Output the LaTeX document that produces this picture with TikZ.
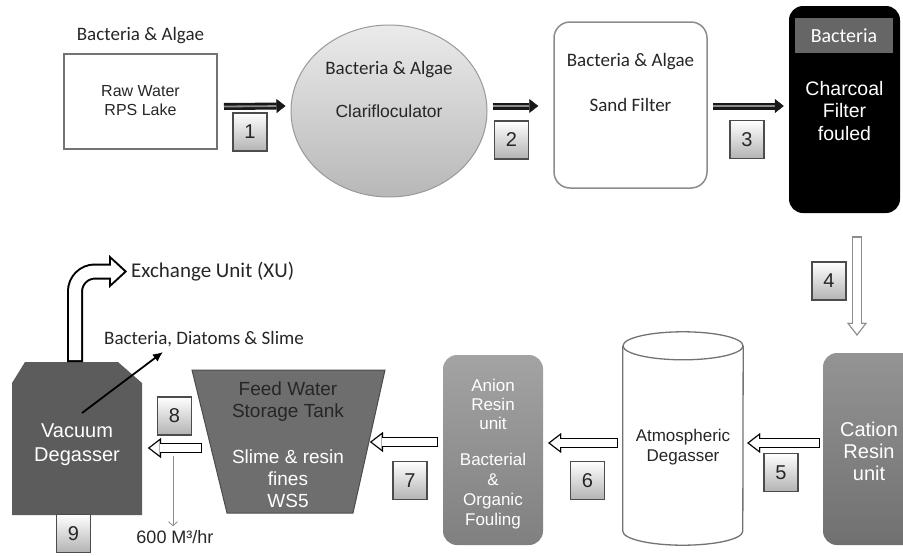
\documentclass[tikz,border=0pt]{standalone}
\usepackage{fontspec}
\setmainfont{Liberation Sans}
\newfontfamily\calib{Carlito}
\usetikzlibrary{arrows.meta,positioning,shapes.geometric}

\begin{document}
\begin{tikzpicture}[x=1pt, y=-1pt]
        \tikzset{every node/.style={align=center, inner sep=0pt, text=black!85}}
        \tikzset{calibtext/.style={font=\calib\fontsize{19}{23}\selectfont}}
        \tikzset{numbox/.style={draw=black!70, line width=1.2pt, top color=white, bottom color=black!30,
                 minimum width=34pt, minimum height=38pt, font=\fontsize{20}{24}\selectfont}}
        \tikzset{darkflow/.style={draw=black!90, double=black!45, double distance=1.8pt, line width=2.6pt,
                 -{Triangle[length=9pt, width=14pt, line width=0.5pt]}}}
        \tikzset{hollowflow/.style={preaction={draw=#1, line width=10pt, shorten >=0pt, shorten <=0pt,
                 -{Triangle[length=13pt, width=20pt, line width=0.01pt]}},
                 draw=white, line width=7.4pt, shorten >=2.1pt, shorten <=1.3pt,
                 -{Triangle[length=9.6pt, width=14.7pt, line width=0.01pt]}}, hollowflow/.default=black}
        \tikzset{hollowbend/.style={rounded corners=20pt, preaction={draw=black, line width=16pt, shorten >=0pt, shorten <=0pt,
                 -{Triangle[length=18pt, width=33pt, line width=0.01pt]}},
                 draw=white, line width=12pt, shorten >=3pt, shorten <=2pt,
                 -{Triangle[length=13pt, width=23.9pt, line width=0.01pt]}}}
        \useasboundingbox (0,0) rectangle (903,555);
        % top row
        \node[draw=black!55, line width=2pt, minimum width=153pt, minimum height=95pt, font=\fontsize{16}{19}\selectfont] (raw) at (140.5,101) {Raw Water\\RPS Lake};
        \node[calibtext] (rawbug) at (140.5,36) {Bacteria \& Algae};
        \node[ellipse, draw=black!40, line width=1pt, top color=black!8, bottom color=black!28,
              minimum width=196pt, minimum height=172pt] (clar) at (389,111) {};
        \node[calibtext] (clarbug) at (389,70) {Bacteria \& Algae};
        \node[font=\fontsize{17.5}{20}\selectfont] (clartxt) at (389,111) {Clarifloculator};
        \node[draw=black!45, line width=1.5pt, rounded corners=16pt, minimum width=153pt, minimum height=166pt] (sand) at (630.5,105) {};
        \node[calibtext] (sandbug) at (630.5,62) {Bacteria \& Algae};
        \node[calibtext] (sandtxt) at (630.5,105) {Sand Filter};
        \node[fill=black, rounded corners=14pt, minimum width=111pt, minimum height=207pt] (char) at (844.5,109.5) {};
        \node[fill=black!60, minimum width=98pt, minimum height=35pt, text=white, font=\calib\fontsize{20}{24}\selectfont] (charbug) at (844,35.5) {Bacteria};
        \node[text=white, font=\fontsize{19.5}{22.5}\selectfont] (chartxt) at (844.5,111) {Charcoal\\Filter\\fouled};
        % bottom row
        \node[top color=black!42, bottom color=black!56, rounded corners=14pt, minimum width=100pt, minimum height=192pt] (cation) at (873,449) {};
        \node[text=white, font=\fontsize{20}{22}\selectfont] (cationtxt) at (869,451) {Cation\\Resin\\unit};
        \node[minimum width=120pt, minimum height=185pt] (atm) at (683,438.5) {};
        \draw[black!55, line width=1.3pt, fill=white] (atm.north west) -- (atm.south west)
              arc[start angle=180, end angle=0, x radius=60, y radius=14] -- (atm.north east);
        \draw[black!55, line width=1.3pt, fill=white] (atm.north) ellipse[x radius=60, y radius=14];
        \node[font=\fontsize{17}{20}\selectfont] (atmtxt) at (683,447) {Atmospheric\\Degasser};
        \node[top color=black!36, bottom color=black!50, rounded corners=14pt, minimum width=100pt, minimum height=190pt] (anion) at (493,450) {};
        \node[text=white, font=\fontsize{17}{19}\selectfont] (aniontxt) at (493,404) {Anion\\Resin\\unit};
        \node[text=white, font=\fontsize{17}{20}\selectfont] (anionbug) at (493,491) {Bacterial\\\&\\Organic\\Fouling};
        \draw[draw=black!70, line width=1pt, fill=black!57] (192,370) -- (385,370) -- (353,513) -- (227,513) -- cycle;
        \node[font=\fontsize{19}{22}\selectfont] (tanktop) at (288,402) {Feed Water\\Storage Tank};
        \node[text=white, font=\fontsize{19}{22}\selectfont] (tankbug) at (288,479) {Slime \& resin\\fines\\WS5};
        \coordinate (tankE) at (370,442);
        \coordinate (tankW) at (202,448);
        \fill[black!64] (25,362) -- (118,362) -- (142,383) -- (142,515) -- (12,515) -- (12,383) -- cycle;
        \node[text=white, font=\fontsize{20}{24}\selectfont] (vac) at (77,445) {Vacuum\\Degasser};
        \coordinate (vacE) at (148,448);
        \coordinate (vacN) at (75,362);
        \coordinate (bugtail) at (82,413);
        \coordinate (bugtip) at (163,352);
        \node[anchor=west, font=\calib\fontsize{21}{25}\selectfont] (xu) at (131,272) {Exchange Unit (XU)};
        \node[calibtext] (bugs) at (204,339) {Bacteria, Diatoms \& Slime};
        \node[font=\fontsize{18}{21}\selectfont] (flow) at (175,537) {600 M³/hr};
        \coordinate (flowtop) at (173,456);
        % flow arrows
        \draw[darkflow] ([shift={(6,5.5)}]raw.east) -- ([shift={(-5,-5)}]clar.west);
        \draw[darkflow] ([shift={(5,-5)}]clar.east) -- ([shift={(-15,1)}]sand.west);
        \draw[darkflow] ([shift={(5,1)}]sand.east) -- ([shift={(-5,-3.5)}]char.west);
        \draw[hollowflow=black!45] ([shift={(12.5,23)}]char.south) -- ([shift={(-16,-17)}]cation.north);
        \draw[hollowflow] ([shift={(-3,-6)}]cation.west) -- ([shift={(4,4.5)}]atm.east);
        \draw[hollowflow] ([shift={(-5,4.5)}]atm.west) -- ([shift={(5,-7)}]anion.east);
        \draw[hollowflow] ([shift={(-5,-8)}]anion.west) -- (tankE);
        \draw[hollowflow] (tankW) -- (vacE);
        \draw[hollowbend] (vacN) |- ([shift={(-4,-0.5)}]xu.west);
        \draw[line width=1.8pt, -{Latex[length=10pt, width=9pt]}] (bugtail) -- (bugtip);
        \draw[black!45, line width=0.8pt, shorten >=4pt, -{Straight Barb[length=4pt, width=9pt]}] (flowtop) -- (flowtop |- flow.north);
        % stage numbers
        \node[numbox] (n1) at (250,132) {1};
        \node[numbox] (n2) at (511.5,140) {2};
        \node[numbox] (n3) at (747,139.5) {3};
        \node[numbox] (n4) at (829,281) {4};
        \node[numbox] (n5) at (781,472.5) {5};
        \node[numbox] (n6) at (587.5,480.5) {6};
        \node[numbox] (n7) at (410,480.5) {7};
        \node[numbox] (n8) at (174.5,416) {8};
        \node[numbox] (n9) at (73.5,533.5) {9};
\end{tikzpicture}
\end{document}
